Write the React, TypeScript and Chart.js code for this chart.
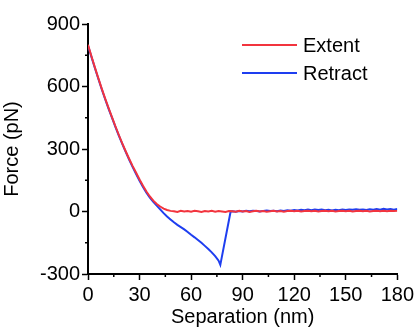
import React, { useEffect, useRef } from "react";
import { Chart, registerables } from "chart.js";

Chart.register(...registerables);

const extentSep = [
  0, 2, 4, 6, 8, 10, 12, 14, 16, 18, 20, 22, 24, 26, 28, 30, 32, 34, 36, 38, 40, 42, 44, 46, 48,
  50, 52, 54, 56, 58, 60, 62, 64, 66, 68, 70, 72, 74, 76, 78, 80, 82, 84, 86, 88, 90, 92, 94, 96, 98,
  100, 102, 104, 106, 108, 110, 112, 114, 116, 118, 120, 122, 124, 126, 128, 130, 132, 134, 136, 138,
  140, 142, 144, 146, 148, 150, 152, 154, 156, 158, 160, 162, 164, 166, 168, 170, 172, 174, 176, 178, 180,
];
const extentForce = [
  800, 745, 692, 640, 590, 542, 496, 452, 408, 366, 326, 288, 252, 218, 186, 154, 124, 96, 72, 52, 36, 24, 14, 7, 3,
  1, -2, 3, 0, 2, -1, 3, 1, -2, 2, 0, 3, -1, 2, 0, -2, 2, 1, -1, 3, 0, 2, -2, 1, 3,
  0, 2, -1, 1, 3, 0, 2, -1, 2, 4, 1, 3, 0, 2, 4, 1, 3, 0, 2, 4,
  1, 3, 0, 2, 4, 1, 3, 0, 2, 4, 1, 3, 0, 2, 4, 1, 3, 1, 4, 2, 3,
];

const retractSep = [
  0, 2, 4, 6, 8, 10, 12, 14, 16, 18, 20, 22, 24, 26, 28, 30, 32, 34, 36, 38, 40, 42, 44, 46, 48,
  50, 52, 54, 56, 58, 60, 62, 64, 66, 68, 70, 72, 74, 76, 77, 83,
  84, 86, 88, 90, 92, 94, 96, 98, 100, 102, 104, 106, 108, 110, 112, 114, 116, 118, 120, 122, 124,
  126, 128, 130, 132, 134, 136, 138, 140, 142, 144, 146, 148, 150, 152, 154, 156, 158, 160, 162,
  164, 166, 168, 170, 172, 174, 176, 178, 180,
];
const retractForce = [
  796, 742, 689, 637, 587, 539, 493, 449, 405, 363, 323, 285, 248, 213, 180, 148, 118, 90, 66, 46, 28, 10, -8, -24, -38,
  -52, -64, -75, -86, -98, -112, -124, -137, -150, -165, -180, -196, -214, -236, -256, 0,
  1, -1, 2, 0, 3, 1, 4, 2, 0, 3, 5, 2, 4, 1, 5, 3, 6, 4, 7, 5, 8,
  6, 9, 6, 10, 7, 9, 6, 8, 5, 8, 6, 9, 7, 10, 8, 11, 8, 10, 7,
  11, 9, 12, 9, 13, 10, 12, 9, 12,
];

const seriesLabels = ["Extent", "Retract"];
const seriesColors = ["rgb(242,52,62)", "rgb(30,62,240)"];
const xTickValues = [0, 30, 60, 90, 120, 150, 180];
const yTickValues = [-300, 0, 300, 600, 900];

const FONT = "'Liberation Sans', Arial, sans-serif";

const minorTicks = {
  id: "minorTicks",
  afterDraw(chart: any) {
    const ctx = chart.ctx;
    const xs = chart.scales.x;
    const ys = chart.scales.y;
    ctx.save();
    ctx.strokeStyle = "#000";
    ctx.lineWidth = 1.5;
    xs.ticks.forEach((t: any) => {
      if (xTickValues.includes(t.value)) return;
      const px = xs.getPixelForValue(t.value);
      ctx.beginPath();
      ctx.moveTo(px, chart.chartArea.bottom);
      ctx.lineTo(px, chart.chartArea.bottom + 3);
      ctx.stroke();
    });
    ys.ticks.forEach((t: any) => {
      if (yTickValues.includes(t.value)) return;
      const py = ys.getPixelForValue(t.value);
      ctx.beginPath();
      ctx.moveTo(chart.chartArea.left, py);
      ctx.lineTo(chart.chartArea.left - 3, py);
      ctx.stroke();
    });
    ctx.restore();
  },
};

const legendPlugin = {
  id: "floatLegend",
  afterDraw(chart: any) {
    const ctx = chart.ctx;
    ctx.save();
    ctx.font = `20px ${FONT}`;
    ctx.textBaseline = "middle";
    ctx.textAlign = "left";
    chart.data.datasets.forEach((ds: any, i: number) => {
      const y = 45 + i * 28;
      ctx.strokeStyle = ds.borderColor;
      ctx.lineWidth = 2;
      ctx.beginPath();
      ctx.moveTo(242, y);
      ctx.lineTo(297, y);
      ctx.stroke();
      ctx.fillStyle = "#000";
      ctx.fillText(ds.label, 303, y + 1);
    });
    ctx.restore();
  },
};

export default function App() {
  const ref = useRef<HTMLCanvasElement>(null);
  useEffect(() => {
    if (!ref.current) return;
    const chart = new Chart(ref.current, {
      type: "line",
      data: {
        datasets: [
          {
            label: seriesLabels[0],
            data: extentSep.map((x, i) => ({ x, y: extentForce[i] })),
            borderColor: seriesColors[0],
            borderWidth: 2,
            pointRadius: 0,
            tension: 0,
          },
          {
            label: seriesLabels[1],
            data: retractSep.map((x, i) => ({ x, y: retractForce[i] })),
            borderColor: seriesColors[1],
            borderWidth: 2,
            pointRadius: 0,
            tension: 0,
          },
        ],
      },
      plugins: [minorTicks, legendPlugin],
      options: {
        animation: false,
        responsive: false,
        maintainAspectRatio: false,
        layout: { padding: { left: 0, right: 18, top: 24, bottom: 0 } },
        plugins: { legend: { display: false }, tooltip: { enabled: false } },
        scales: {
          x: {
            type: "linear",
            min: 0,
            max: 180,
            afterFit: (s: any) => {
              s.height = 55;
            },
            ticks: {
              stepSize: 15,
              autoSkip: false,
              maxRotation: 0,
              padding: 3,
              color: "#000",
              font: { family: FONT, size: 20 },
              callback: (v: any) => (xTickValues.includes(v) ? String(v) : ""),
            },
            grid: {
              drawOnChartArea: false,
              tickLength: 6,
              tickWidth: 1.5,
              tickColor: (c: any) => (c.tick && xTickValues.includes(c.tick.value) ? "#000" : "rgba(0,0,0,0)"),
            },
            border: { display: true, color: "#000", width: 2 },
            title: {
              display: true,
              text: "Separation (nm)",
              color: "#000",
              font: { family: FONT, size: 20 },
              padding: 0,
            },
          },
          y: {
            min: -300,
            max: 900,
            afterFit: (s: any) => {
              s.width = 88;
            },
            ticks: {
              stepSize: 150,
              autoSkip: false,
              padding: 2,
              color: "#000",
              font: { family: FONT, size: 20 },
              callback: (v: any) => (yTickValues.includes(v) ? String(v) : ""),
            },
            grid: {
              drawOnChartArea: false,
              tickLength: 6,
              tickWidth: 1.5,
              tickColor: (c: any) => (c.tick && yTickValues.includes(c.tick.value) ? "#000" : "rgba(0,0,0,0)"),
            },
            border: { display: true, color: "#000", width: 2 },
            title: {
              display: true,
              text: "Force (pN)",
              color: "#000",
              font: { family: FONT, size: 20 },
              padding: 0,
            },
          },
        },
      },
    });
    return () => chart.destroy();
  }, []);
  return (
    <div style={{ position: "absolute", left: 0, top: 0, width: 417, height: 329, background: "#fff" }}>
      <canvas ref={ref} width={417} height={329} style={{ display: "block", width: 417, height: 329 }} />
    </div>
  );
}
